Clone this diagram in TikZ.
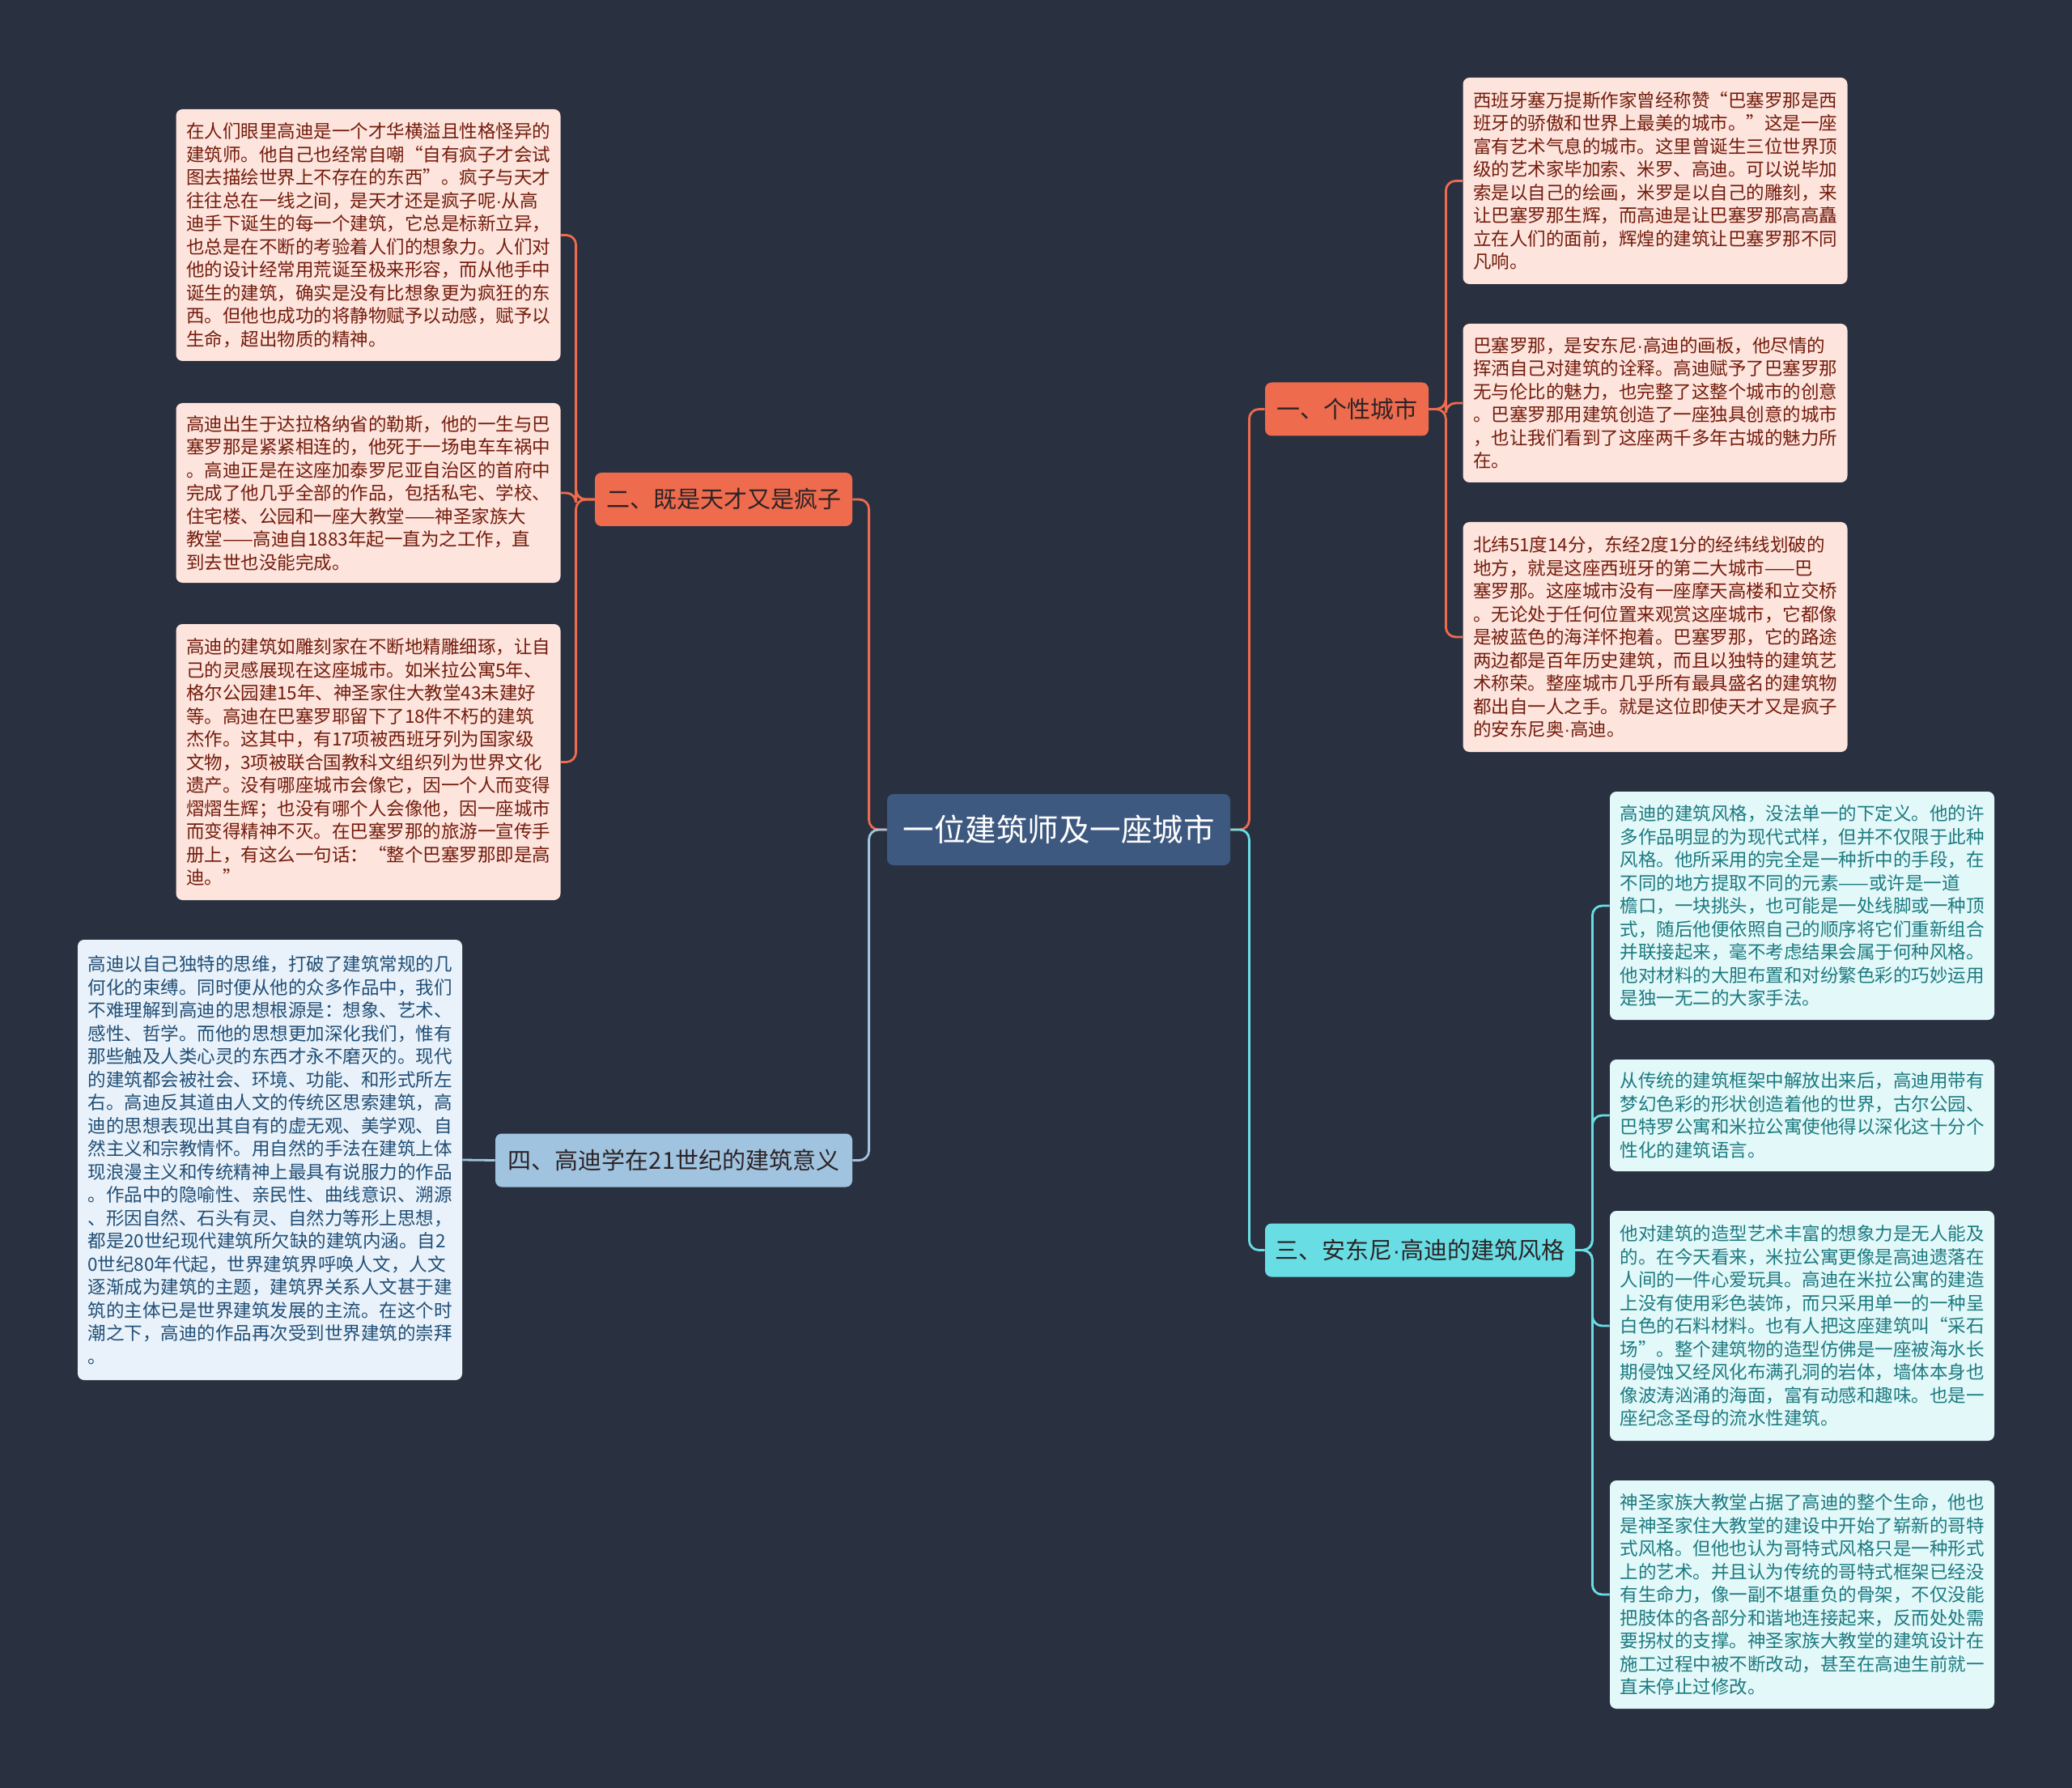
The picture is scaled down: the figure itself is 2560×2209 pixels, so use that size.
\documentclass[tikz,border=0pt]{standalone}
\usepackage{fontspec}
\setmainfont{Noto Sans CJK SC}
\newfontfamily\dotfont{Liberation Sans}
\newcommand\narrowdot{{\dotfont ·}}
\definecolor{bgcol}{RGB}{41,48,64}
\definecolor{rootcol}{RGB}{62,89,128}
\definecolor{orangecol}{RGB}{238,107,77}
\definecolor{cyancol}{RGB}{104,222,228}
\definecolor{bluecol}{RGB}{160,196,224}
\definecolor{orangeleaf}{RGB}{253,228,221}
\definecolor{orangetext}{RGB}{115,28,12}
\definecolor{cyanleaf}{RGB}{226,248,249}
\definecolor{cyantext}{RGB}{28,122,128}
\definecolor{blueleaf}{RGB}{233,242,250}
\definecolor{bluetext}{RGB}{32,78,118}
\definecolor{topictext}{RGB}{45,35,38}
\begin{document}
\begin{tikzpicture}[x=0.5pt,y=-0.5pt,
    leafbox/.style={rounded corners=4pt, align=left, inner sep=0pt,
        minimum width=237.5pt, font=\fontsize{11.25pt}{14.25pt}\selectfont},
    orangeleafbox/.style={leafbox, fill=orangeleaf, text=orangetext},
    cyanleafbox/.style={leafbox, fill=cyanleaf, text=cyantext},
    blueleafbox/.style={leafbox, fill=blueleaf, text=bluetext},
    topicbox/.style={rounded corners=4pt, inner sep=0pt, text=topictext,
        font=\fontsize{14.5pt}{17pt}\selectfont, minimum height=33pt},
    link/.style={line width=1.4pt, rounded corners=6pt}]
    % Background
    \fill[bgcol] (0,0) rectangle (2560,2209);

    % Root
    \node[fill=rootcol, rounded corners=4pt, text=white, minimum width=212pt,
        minimum height=44pt, font=\fontsize{19.25pt}{22pt}\selectfont]
        (root) at (1308,1025) {一位建筑师及一座城市};

    % Topics
    \node[topicbox, fill=orangecol, minimum width=101pt] (b1) at (1664,505.5) {一、个性城市};
    \node[topicbox, fill=orangecol, minimum width=159pt] (b2) at (894,617) {二、既是天才又是疯子};
    \node[topicbox, fill=cyancol, minimum width=191.5pt] (b3) at (1754.5,1544.5) {三、安东尼\narrowdot 高迪的建筑风格};
    \node[topicbox, fill=bluecol, minimum width=220.5pt] (b4) at (832.5,1433.5) {四、高迪学在21世纪的建筑意义};

    % Leaves of topic 2
    \node[orangeleafbox, minimum height=155.5pt] (l1) at (455,290.5) {%
        在人们眼里高迪是一个才华横溢且性格怪异的\\
        建筑师。他自己也经常自嘲“自有疯子才会试\\
        图去描绘世界上不存在的东西”。疯子与天才\\
        往往总在一线之间，是天才还是疯子呢\narrowdot 从高\\
        迪手下诞生的每一个建筑，它总是标新立异，\\
        也总是在不断的考验着人们的想象力。人们对\\
        他的设计经常用荒诞至极来形容，而从他手中\\
        诞生的建筑，确实是没有比想象更为疯狂的东\\
        西。但他也成功的将静物赋予以动感，赋予以\\
        生命，超出物质的精神。};
    \node[orangeleafbox, minimum height=111pt] (l2) at (455,609) {%
        高迪出生于达拉格纳省的勒斯，他的一生与巴\\
        塞罗那是紧紧相连的，他死于一场电车车祸中\\
        。高迪正是在这座加泰罗尼亚自治区的首府中\\
        完成了他几乎全部的作品，包括私宅、学校、\\
        住宅楼、公园和一座大教堂——神圣家族大\\
        教堂——高迪自1883年起一直为之工作，直\\
        到去世也没能完成。};
    \node[orangeleafbox, minimum height=170.5pt] (l3) at (455,941.5) {%
        高迪的建筑如雕刻家在不断地精雕细琢，让自\\
        己的灵感展现在这座城市。如米拉公寓5年、\\
        格尔公园建15年、神圣家住大教堂43未建好\\
        等。高迪在巴塞罗耶留下了18件不朽的建筑\\
        杰作。这其中，有17项被西班牙列为国家级\\
        文物，3项被联合国教科文组织列为世界文化\\
        遗产。没有哪座城市会像它，因一个人而变得\\
        熠熠生辉；也没有哪个人会像他，因一座城市\\
        而变得精神不灭。在巴塞罗那的旅游一宣传手\\
        册上，有这么一句话：“整个巴塞罗那即是高\\
        迪。”};

    % Leaf of topic 4
    \node[blueleafbox, minimum height=272pt] (l4) at (333.5,1433) {%
        高迪以自己独特的思维，打破了建筑常规的几\\
        何化的束缚。同时便从他的众多作品中，我们\\
        不难理解到高迪的思想根源是：想象、艺术、\\
        感性、哲学。而他的思想更加深化我们，惟有\\
        那些触及人类心灵的东西才永不磨灭的。现代\\
        的建筑都会被社会、环境、功能、和形式所左\\
        右。高迪反其道由人文的传统区思索建筑，高\\
        迪的思想表现出其自有的虚无观、美学观、自\\
        然主义和宗教情怀。用自然的手法在建筑上体\\
        现浪漫主义和传统精神上最具有说服力的作品\\
        。作品中的隐喻性、亲民性、曲线意识、溯源\\
        、形因自然、石头有灵、自然力等形上思想，\\
        都是20世纪现代建筑所欠缺的建筑内涵。自2\\
        0世纪80年代起，世界建筑界呼唤人文，人文\\
        逐渐成为建筑的主题，建筑界关系人文甚于建\\
        筑的主体已是世界建筑发展的主流。在这个时\\
        潮之下，高迪的作品再次受到世界建筑的崇拜\\
        。};

    % Leaves of topic 1
    \node[orangeleafbox, minimum height=127.5pt] (r1) at (2045,223.5) {%
        西班牙塞万提斯作家曾经称赞“巴塞罗那是西\\
        班牙的骄傲和世界上最美的城市。”这是一座\\
        富有艺术气息的城市。这里曾诞生三位世界顶\\
        级的艺术家毕加索、米罗、高迪。可以说毕加\\
        索是以自己的绘画，米罗是以自己的雕刻，来\\
        让巴塞罗那生辉，而高迪是让巴塞罗那高高矗\\
        立在人们的面前，辉煌的建筑让巴塞罗那不同\\
        凡响。};
    \node[orangeleafbox, minimum height=98pt] (r2) at (2045,498) {%
        巴塞罗那，是安东尼\narrowdot 高迪的画板，他尽情的\\
        挥洒自己对建筑的诠释。高迪赋予了巴塞罗那\\
        无与伦比的魅力，也完整了这整个城市的创意\\
        。巴塞罗那用建筑创造了一座独具创意的城市\\
        ，也让我们看到了这座两千多年古城的魅力所\\
        在。};
    \node[orangeleafbox, minimum height=142pt] (r3) at (2045,787) {%
        北纬51度14分，东经2度1分的经纬线划破的\\
        地方，就是这座西班牙的第二大城市——巴\\
        塞罗那。这座城市没有一座摩天高楼和立交桥\\
        。无论处于任何位置来观赏这座城市，它都像\\
        是被蓝色的海洋怀抱着。巴塞罗那，它的路途\\
        两边都是百年历史建筑，而且以独特的建筑艺\\
        术称荣。整座城市几乎所有最具盛名的建筑物\\
        都出自一人之手。就是这位即使天才又是疯子\\
        的安东尼奥\narrowdot 高迪。};

    % Leaves of topic 3
    \node[cyanleafbox, minimum height=141pt] (r4) at (2226.5,1119) {%
        高迪的建筑风格，没法单一的下定义。他的许\\
        多作品明显的为现代式样，但并不仅限于此种\\
        风格。他所采用的完全是一种折中的手段，在\\
        不同的地方提取不同的元素——或许是一道\\
        檐口，一块挑头，也可能是一处线脚或一种顶\\
        式，随后他便依照自己的顺序将它们重新组合\\
        并联接起来，毫不考虑结果会属于何种风格。\\
        他对材料的大胆布置和对纷繁色彩的巧妙运用\\
        是独一无二的大家手法。};
    \node[cyanleafbox, minimum height=69pt] (r5) at (2226.5,1378) {%
        从传统的建筑框架中解放出来后，高迪用带有\\
        梦幻色彩的形状创造着他的世界，古尔公园、\\
        巴特罗公寓和米拉公寓使他得以深化这十分个\\
        性化的建筑语言。};
    \node[cyanleafbox, minimum height=142pt] (r6) at (2226.5,1638) {%
        他对建筑的造型艺术丰富的想象力是无人能及\\
        的。在今天看来，米拉公寓更像是高迪遗落在\\
        人间的一件心爱玩具。高迪在米拉公寓的建造\\
        上没有使用彩色装饰，而只采用单一的一种呈\\
        白色的石料材料。也有人把这座建筑叫“采石\\
        场”。整个建筑物的造型仿佛是一座被海水长\\
        期侵蚀又经风化布满孔洞的岩体，墙体本身也\\
        像波涛汹涌的海面，富有动感和趣味。也是一\\
        座纪念圣母的流水性建筑。};
    \node[cyanleafbox, minimum height=141pt] (r7) at (2226.5,1970) {%
        神圣家族大教堂占据了高迪的整个生命，他也\\
        是神圣家住大教堂的建设中开始了崭新的哥特\\
        式风格。但他也认为哥特式风格只是一种形式\\
        上的艺术。并且认为传统的哥特式框架已经没\\
        有生命力，像一副不堪重负的骨架，不仅没能\\
        把肢体的各部分和谐地连接起来，反而处处需\\
        要拐杖的支撑。神圣家族大教堂的建筑设计在\\
        施工过程中被不断改动，甚至在高迪生前就一\\
        直未停止过修改。};

    % Root to topics
    \draw[link, orangecol] (root.west) -- ++(-22,0) |- (b2.east);
    \draw[link, bluecol] (root.west) -- ++(-22,0) |- (b4.east);
    \draw[link, orangecol] (root.east) -- ++(23,0) |- (b1.west);
    \draw[link, cyancol] (root.east) -- ++(23,0) |- (b3.west);

    % Topics to leaves
    \foreach \leaf in {r1,r2,r3}
        \draw[link, orangecol] (b1.east) -- ++(21,0) |- (\leaf.west);
    \foreach \leaf in {l1,l2,l3}
        \draw[link, orangecol] (b2.west) -- ++(-23,0) |- (\leaf.east);
    \foreach \leaf in {r4,r5,r6,r7}
        \draw[link, cyancol] (b3.east) -- ++(21,0) |- (\leaf.west);
    \draw[link, bluecol] (b4.west) -- (l4.east);
\end{tikzpicture}
\end{document}
